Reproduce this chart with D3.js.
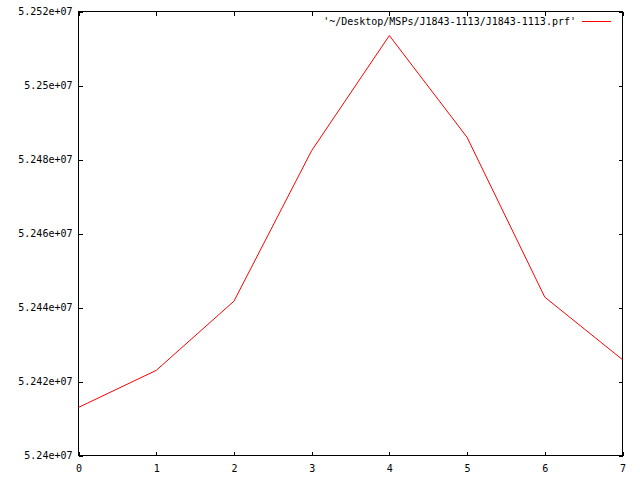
<!DOCTYPE html>
<html><head><meta charset="utf-8">
<script src="https://cdn.jsdelivr.net/npm/d3@7"></script>
<style>body{margin:0;background:#fff}svg{display:block}text{font-family:"DejaVu Sans Mono",monospace;font-size:10px;fill:#000}</style>
</head><body><svg id="c" width="640" height="480"></svg>
<script>
const xValues = [0, 1, 2, 3, 4, 5, 6, 7];
const yValues = [52413000, 52423000, 52441700, 52482400, 52513500, 52486000, 52442800, 52425900];
const xTicks = [0, 1, 2, 3, 4, 5, 6, 7];
const yTicks = [52400000, 52420000, 52440000, 52460000, 52480000, 52500000, 52520000];
const yTickLabels = ["5.24e+07", "5.242e+07", "5.244e+07", "5.246e+07", "5.248e+07", "5.25e+07", "5.252e+07"];
const legendLabel = "'~/Desktop/MSPs/J1843-1113/J1843-1113.prf'";

const svg = d3.select("#c");
const L = 78.5, R = 622.5, T = 11.5, B = 455.5;
const x = d3.scaleLinear().domain([0, 7]).range([L, R]);
const y = d3.scaleLinear().domain([52400000, 52520000]).range([B, T]);
const tl = 4;

// axes via d3 axis generators (ticks inward)
const yAxis = d3.axisLeft(y).tickValues(yTicks).tickFormat((d, i) => yTickLabels[i]).tickSizeInner(-tl).tickSizeOuter(0).tickPadding(6);
const gy = svg.append("g").attr("transform", `translate(${L},0)`).call(yAxis);
const xAxis = d3.axisBottom(x).tickValues(xTicks).tickFormat(d3.format("d")).tickSizeInner(-tl).tickSizeOuter(0).tickPadding(7);
const gx = svg.append("g").attr("transform", `translate(0,${B})`).call(xAxis);
const yAxisR = d3.axisRight(y).tickValues(yTicks).tickFormat("").tickSizeInner(-tl).tickSizeOuter(0);
svg.append("g").attr("transform", `translate(${R},0)`).call(yAxisR);
const xAxisT = d3.axisTop(x).tickValues(xTicks).tickFormat("").tickSizeInner(-tl).tickSizeOuter(0);
svg.append("g").attr("transform", `translate(0,${T})`).call(xAxisT);
svg.selectAll(".domain").remove();
svg.selectAll(".tick line").attr("stroke", "#000").attr("shape-rendering", "crispEdges");
svg.selectAll(".tick text").attr("font-family", "DejaVu Sans Mono").attr("font-size", 10).attr("fill", "#000");
gx.selectAll(".tick text").attr("dy", "0.9em");

// border
svg.append("rect").attr("x", L).attr("y", T).attr("width", R - L).attr("height", B - T)
  .attr("fill", "none").attr("stroke", "#000").attr("shape-rendering", "crispEdges");

// line
const line = d3.line().x((d, i) => x(xValues[i])).y(d => y(d));
svg.append("path").datum(yValues).attr("d", line).attr("fill", "none").attr("stroke", "#f00").attr("stroke-width", 1);

// legend
svg.append("text").attr("x", 576).attr("y", 25).attr("text-anchor", "end").text(legendLabel);
svg.append("line").attr("x1", 582).attr("x2", 611).attr("y1", 21.5).attr("y2", 21.5)
  .attr("stroke", "#f00").attr("shape-rendering", "crispEdges");
</script></body></html>
